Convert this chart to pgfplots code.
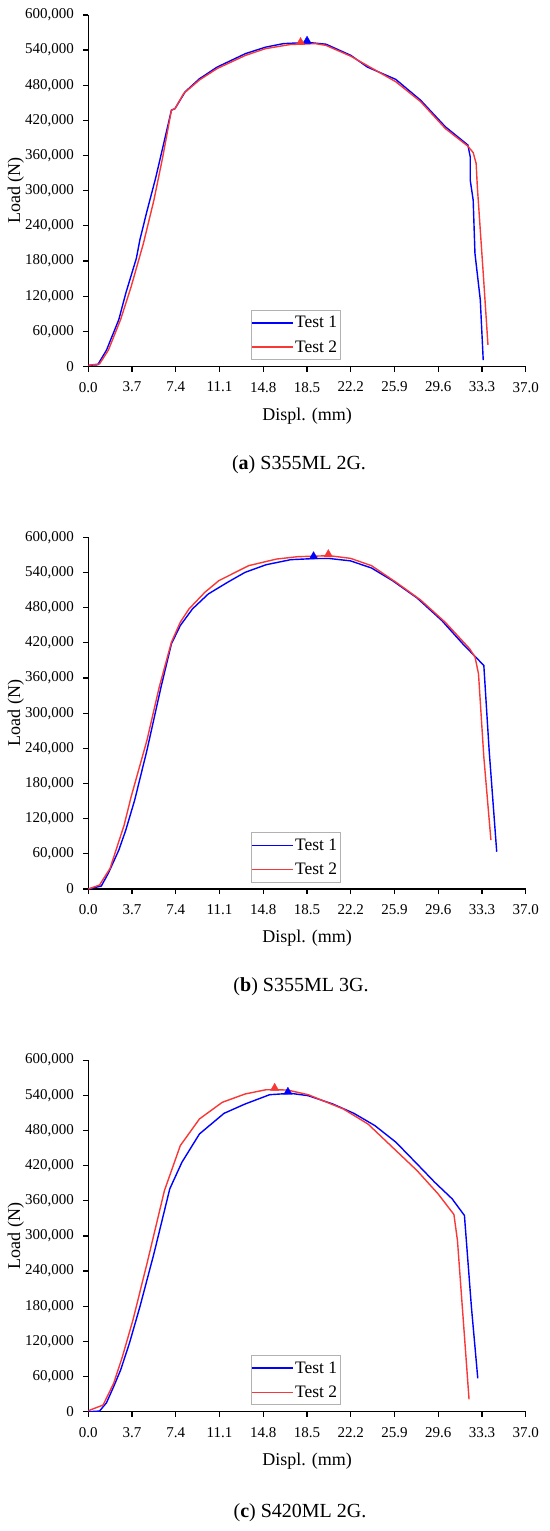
\documentclass[border=0pt]{standalone}
\usepackage{fontspec}
\setmainfont{Liberation Serif}
\usepackage{pgfplots}
\pgfplotsset{compat=1.18}
\definecolor{tblue}{RGB}{0,0,255}
\definecolor{tred}{RGB}{250,55,55}
\pgfplotsset{
 myax/.style={
  scale only axis, width=437.5bp, height=351.6bp,
  xmin=0, xmax=37, ymin=0, ymax=600000,
  axis x line*=bottom, axis y line*=left,
  axis line style={black, line width=1.2bp},
  xtick={0,3.7,7.4,11.1,14.8,18.5,22.2,25.9,29.6,33.3,37},
  ytick={0,60000,120000,180000,240000,300000,360000,420000,480000,540000,600000},
  tick align=outside, major tick length=5bp,
  tick style={black, line width=1.2bp},
  scaled y ticks=false, scaled x ticks=false,
  xticklabel style={yshift=-7bp, /pgf/number format/.cd, fixed, fixed zerofill, precision=1, assume math mode=true},
  yticklabel style={xshift=-6bp, /pgf/number format/.cd, fixed, precision=0, 1000 sep={,}, assume math mode=true},
  tick label style={font=\fontsize{15bp}{17bp}\selectfont},
  label style={font=\fontsize{18bp}{21bp}\selectfont},
  xlabel={Displ. (mm)}, ylabel={Load (N)},
  xlabel style={at={(axis description cs:0.5,-0.14)}, anchor=center},
  ylabel style={at={(axis description cs:-0.1655,0.5)}, anchor=center},
  legend style={at={(0.371,0.0185)}, anchor=south west, draw=gray!60, line width=0.9bp,
    font=\fontsize{17.5bp}{20bp}\selectfont, inner xsep=0.5bp, inner ysep=0.5bp, row sep=0bp,
    nodes={inner xsep=2.5bp, inner ysep=5.5bp}},
  legend cell align=left,
  legend image code/.code={\fill[##1, draw=none] (0bp,-0.7bp) rectangle (41bp,0.7bp);},
 },
 bl/.style={color=tblue, line width=1.4bp},
 rd/.style={color=tred, line width=1.4bp},
 mk/.style={only marks, mark=triangle*, mark size=4.8bp, forget plot},
}
\begin{document}
\begin{tikzpicture}
\useasboundingbox (0,0) rectangle (550bp,-1531bp);
% ---------------- (a)
\begin{axis}[myax, at={(88.3bp,-366.5bp)}, anchor=south west]
\addplot[bl] coordinates {(0,2000) (0.8,3000) (1.54,28000) (2.58,80000) (3.17,125000) (4.07,185000) (4.36,216000) (4.96,265000) (5.7,322000) (6.44,386000) (7.03,437500) (7.33,440000) (8.2,469000) (9.4,491000) (10.9,511000) (13.3,534000) (15.0,545000) (16.5,551000) (18.6,553000) (20.1,550000) (22.2,531000) (23.6,511000) (26.0,490000) (28.1,454500) (30.2,409000) (32.1,378000) (32.3,358000) (32.3,318000) (32.55,284000) (32.7,193000) (33.15,114000) (33.4,11000)};
\addlegendentry{Test 1}
\addplot[rd] coordinates {(0,2000) (0.95,4500) (1.7,28000) (2.73,80000) (3.62,136000) (4.66,210000) (5.55,284000) (6.3,358000) (7.03,437500) (7.33,440000) (8.07,466000) (9.4,489000) (10.9,508500) (13.3,531000) (15.0,542500) (17.1,549500) (19.2,551000) (20.1,548000) (22.2,529500) (26.0,486000) (28.1,452000) (30.2,406000) (32.1,376000) (32.55,365000) (32.8,346600) (32.9,307000) (33.4,159000) (33.8,37000)};
\addlegendentry{Test 2}
\addplot[mk, tblue] coordinates {(18.5,555500)};
\addplot[mk, tred] coordinates {(17.95,553200)};
\end{axis}
% ---------------- (b)
\begin{axis}[myax, at={(88.3bp,-889bp)}, anchor=south west]
\addplot[bl] coordinates {(0,0) (1.1,5100) (1.69,26700) (2.58,66400) (3.17,100500) (3.92,151600) (4.96,236700) (6.15,344600) (7.03,418400) (7.78,449600) (8.81,478000) (10.15,503500) (11.78,523400) (13.26,540400) (15.04,553400) (17.12,562000) (19.2,564000) (20.39,564000) (22.17,560000) (23.95,547800) (25.73,526200) (27.8,496700) (29.9,458100) (31.67,418400) (33.45,381500) (33.9,236700) (34.54,63600)};
\addlegendentry{Test 1}
\addplot[rd] coordinates {(0,0) (0.95,6800) (1.84,35200) (3.03,109000) (3.62,157200) (4.96,253800) (6.0,344600) (7.03,421200) (7.78,455300) (8.52,478000) (9.86,506400) (11.04,526200) (13.56,551800) (15.93,563100) (17.71,567100) (20.39,568800) (22.17,564300) (23.95,551800) (26.03,523400) (28.1,493300) (30.18,455300) (32.26,409800) (32.71,395600) (33.0,367200) (33.45,225300) (34.05,83400)};
\addlegendentry{Test 2}
\addplot[mk, tblue] coordinates {(19.05,567500)};
\addplot[mk, tred] coordinates {(20.3,571000)};
\end{axis}
% ---------------- (c)
\begin{axis}[myax, at={(88.3bp,-1411.7bp)}, anchor=south west]
\addplot[bl] coordinates {(0,0) (0.95,1100) (1.54,15300) (2.14,42600) (2.73,71000) (3.47,116400) (4.36,178800) (5.55,269700) (6.89,380300) (7.92,425800) (9.4,474000) (11.48,509200) (13.26,525100) (15.34,541000) (17.12,543300) (18.6,539300) (20.68,525100) (22.46,509200) (24.24,488200) (26.02,459800) (27.8,422900) (29.29,391700) (30.77,363300) (31.81,334900) (32.4,178800) (32.94,56800)};
\addlegendentry{Test 1}
\addplot[rd] coordinates {(0,1700) (1.25,11400) (2.14,48200) (2.88,93600) (3.77,156100) (4.96,252600) (6.44,377500) (7.78,454100) (9.4,499600) (11.33,528000) (13.26,542200) (15.04,549500) (16.82,549000) (18.6,541000) (21.57,516600) (23.65,491000) (26.02,445600) (27.8,411500) (29.58,371800) (30.92,336600) (31.22,292300) (31.96,87900) (32.2,21000)};
\addlegendentry{Test 2}
\addplot[mk, tblue] coordinates {(16.88,545500)};
\addplot[mk, tred] coordinates {(15.76,552200)};
\end{axis}
\node[font=\fontsize{20bp}{24bp}\selectfont] at (299bp,-465bp) {(\textbf{a}) S355ML 2G.};
\node[font=\fontsize{20bp}{24bp}\selectfont] at (301bp,-987bp) {(\textbf{b}) S355ML 3G.};
\node[font=\fontsize{20bp}{24bp}\selectfont] at (300bp,-1513bp) {(\textbf{c}) S420ML 2G.};
\end{tikzpicture}
\end{document}
